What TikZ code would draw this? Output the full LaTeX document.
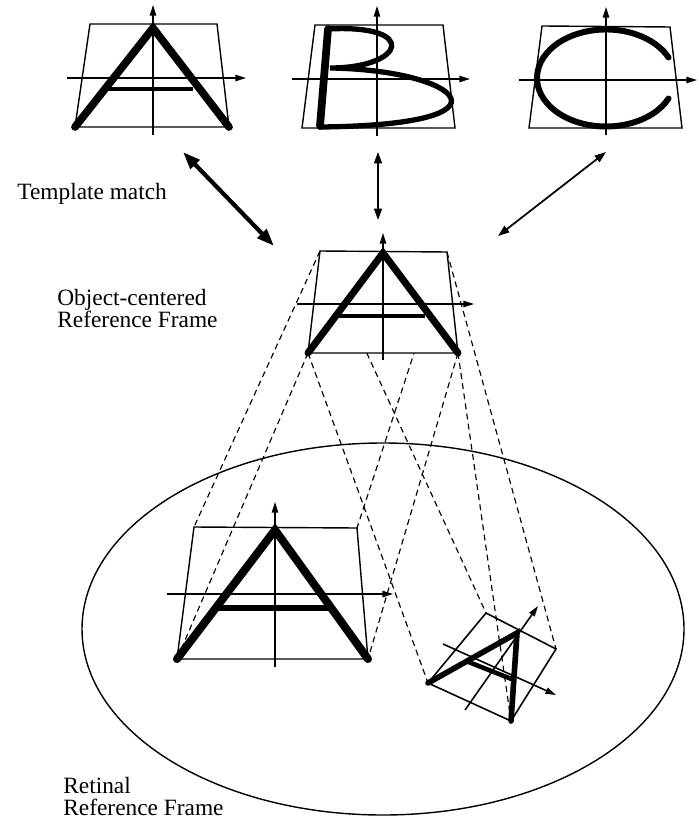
\documentclass[tikz,border=0pt]{standalone}
\usepackage{fontspec}
\setmainfont{Liberation Serif}
\usetikzlibrary{arrows.meta}

\begin{document}
\begin{tikzpicture}[x=0.02cm,y=-0.02cm,
  frame/.style={line width=0.8pt,line join=miter},
  axis/.style={line width=0.8pt,-{Triangle[length=6pt,width=3.6pt]}},
  glyph/.style={line width=4.4pt,line cap=round,line join=miter},
  bar/.style={line width=2.8pt},
  proj/.style={line width=0.65pt,dash pattern=on 3.4pt off 2.4pt},
  match/.style={line width=1pt,{Triangle[length=6.5pt,width=4.5pt]}-{Triangle[length=6.5pt,width=4.5pt]}},
  lbl/.style={font=\fontsize{13.3}{12.6}\selectfont,align=left,inner sep=0pt,anchor=north west}
]
  \useasboundingbox (0,0) rectangle (698,820);

  % corners of the frames
  \coordinate (aTL) at (90,24);   \coordinate (aTR) at (217,24);
  \coordinate (aBR) at (229,127); \coordinate (aBL) at (75,127);
  \coordinate (bTL) at (315,25);  \coordinate (bTR) at (443,25);
  \coordinate (bBR) at (455,128); \coordinate (bBL) at (302,128);
  \coordinate (cTL) at (542,26);  \coordinate (cTR) at (670,27);
  \coordinate (cBR) at (682,128); \coordinate (cBL) at (529,128);
  \coordinate (mTL) at (320,251); \coordinate (mTR) at (447,252);
  \coordinate (mBR) at (458,353); \coordinate (mBL) at (308,353);
  \coordinate (lTL) at (194,527); \coordinate (lTR) at (357,528);
  \coordinate (lBR) at (368,659); \coordinate (lBL) at (177,659);
  \coordinate (rTL) at (486,613); \coordinate (rTR) at (556,649);
  \coordinate (rBR) at (511,721); \coordinate (rBL) at (428,683);

  % retina
  \draw[line width=0.8pt] (383,629) ellipse[x radius=301,y radius=186];

  % projections
  \draw[proj] (mTL) -- (lTL);
  \draw[proj] (mTR) -- (lTR);
  \draw[proj] (mBL) -- (lBL);
  \draw[proj] (mBR) -- (lBR);
  \draw[proj] (mTL) -- (rTL);
  \draw[proj] (mTR) -- (rTR);
  \draw[proj] (mBL) -- (rBL);
  \draw[proj] (mBR) -- (rBR);
  \fill[white] (mTL) -- (mTR) -- (mBR) -- (mBL) -- cycle;

  % A template
  \draw[frame] (aTL) -- (aTR) -- (aBR) -- (aBL) -- cycle;
  \draw[axis] (153,135) -- (153,5);
  \draw[axis] (67,78) -- (246,78);
  \draw[glyph] (aBL) -- (153,28) -- (aBR);
  \draw[bar] (107,89) -- (193,89);

  % B template
  \draw[frame] (bTL) -- (bTR) -- (bBR) -- (bBL) -- cycle;
  \draw[axis] (377,136) -- (377,6);
  \draw[axis] (292,79) -- (470,79);
  \draw[line width=4.4pt,line cap=round] (328,29) -- (320,126);
  \draw[line width=3pt,line cap=round] (328,29) .. controls (420,24) and (405,68) .. (330,68)
    .. controls (460,70) and (525,125) .. (320,127);

  % C template
  \draw[frame] (cTL) -- (cTR) -- (cBR) -- (cBL) -- cycle;
  \draw[axis] (606,135) -- (606,7);
  \draw[axis] (519,80) -- (697,80);
  \draw[line width=3.4pt,line cap=round] (606,78) ++(25:69 and 48.5)
    arc[start angle=25,end angle=335,x radius=69,y radius=48.5];

  % matching
  \coordinate (ta) at (183,152); \coordinate (tb) at (274,246);
  \coordinate (tc) at (378,152); \coordinate (td) at (378,220);
  \coordinate (te) at (606,152); \coordinate (tf) at (498,236);
  \draw[match,line width=2.4pt,{Triangle[length=10pt,width=7pt]}-{Triangle[length=10pt,width=7pt]}] (ta) -- (tb);
  \draw[match] (tc) -- (td);
  \draw[match] (te) -- (tf);

  % object-centered A
  \draw[frame] (mTL) -- (mTR) -- (mBR) -- (mBL) -- cycle;
  \draw[axis] (383,360) -- (383,233);
  \draw[axis] (297,304) -- (474,304);
  \draw[glyph,line width=4pt] (mBL) -- (383,253) -- (mBR);
  \draw[bar] (337,316) -- (425,316);

  % retinal A
  \draw[frame] (lTL) -- (lTR) -- (lBR) -- (lBL) -- cycle;
  \draw[axis] (275,667) -- (275,502);
  \draw[axis] (167,594) -- (393,594);
  \draw[glyph,line width=4.6pt] (lBL) -- (275,530) -- (lBR);
  \draw[bar,line width=3pt] (217,608) -- (332,608);

  % rotated A
  \draw[frame,line width=0.9pt] (rTL) -- (rTR) -- (rBR) -- (rBL) -- cycle;
  \draw[axis,line width=0.9pt] (465,710) -- (538,606);
  \draw[axis,line width=0.9pt] (443,644) -- (556,695);
  \draw[glyph,line width=3.2pt] (rBL) -- (517,633) -- (rBR);
  \draw[bar,line width=2.6pt] (466,661) -- (514,680);

  \node[lbl] (tm) at (17,183) {Template match};
  \node[lbl] (ocf) at (57,289) {Object-centered\\Reference Frame};
  \node[lbl] (rrf) at (63,777) {Retinal\\Reference Frame};
\end{tikzpicture}
\end{document}
